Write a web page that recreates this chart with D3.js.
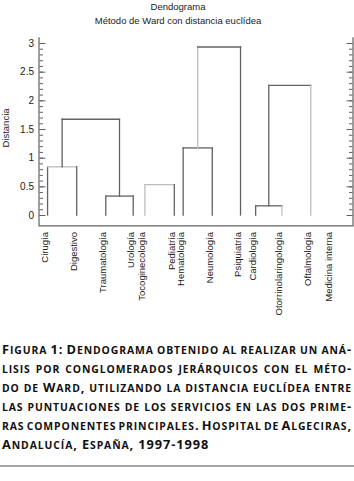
<!DOCTYPE html>
<html>
<head>
<meta charset="utf-8">
<script src="https://cdn.jsdelivr.net/npm/d3@7"></script>
<style>
  html, body { margin: 0; padding: 0; background: #fff; }
  svg { display: block; }
</style>
</head>
<body>
<script>
// Dendograma - Ward, distancia euclídea
// leaves in the order they appear along the x axis
var leaves = ['Cirugía', 'Digestivo', 'Traumatología', 'Urología', 'Tocoginecología',
    'Pediatría', 'Hematología', 'Neumología', 'Psiquiatría', 'Cardiología',
    'Otorrinolaringología', 'Oftalmología', 'Medicina interna'];
var leafPos = [0.30, 1.32, 2.34, 3.30, 3.71, 4.74, 5.05, 6.07, 7.06, 7.59, 8.51, 9.52, 10.23];

// merges: child A, child B (L = leaf, M = earlier merge), height
var mergeA = ['L0', 'L2', 'M0', 'L4', 'L6', 'M4', 'L9', 'M6'];
var mergeB = ['L1', 'L3', 'M1', 'L5', 'L7', 'L8', 'L10', 'L11'];
var mergeHeight = [0.84, 0.33, 1.67, 0.53, 1.17, 2.93, 0.16, 2.26];

var yTicks = [0, 0.5, 1, 1.5, 2, 2.5, 3];
var yTickLabels = ['0', '0.5', '1', '1.5', '2', '2.5', '3'];

var captionLines = [
    'Figura 1: Dendograma obtenido al realizar un aná-',
    'lisis por conglomerados jerárquicos con el méto-',
    'do de Ward, utilizando la distancia euclídea entre',
    'las puntuaciones de los servicios en las dos prime-',
    'ras componentes principales. Hospital de Algeciras,',
    'Andalucía, España, 1997-1998'
];

// segments drawn in the lighter grey of the original print
var lightSegs = { 'M0-h': 1, 'M3-a': 1, 'M3-h': 1, 'M5-a': 1, 'M6-b': 1, 'M7-b': 1 };

(function() {
    'use strict';

    var W = 354, H = 481;
    var dark = '#626262', light = '#bdbdbd';
    var chartFont = '"Liberation Sans", Arial, sans-serif';

    var svg = d3.select('body').append('svg')
        .attr('width', W)
        .attr('height', H)
        .style('font-family', chartFont);

    var plotLeft = 39, plotRight = 353;
    var x = d3.scaleLinear().domain([0, 11]).range([plotLeft, plotRight]);
    var y = d3.scaleLinear().domain([0, 3]).range([215, 43]);

    // Titles
    svg.append('text')
        .attr('x', 178).attr('y', 10)
        .attr('text-anchor', 'middle')
        .attr('font-size', '9.5px')
        .attr('fill', '#222')
        .text('Dendograma');
    svg.append('text')
        .attr('x', 178).attr('y', 24)
        .attr('text-anchor', 'middle')
        .attr('font-size', '9.5px')
        .attr('fill', '#222')
        .text('Método de Ward con distancia euclídea');

    // Frame (left, bottom, right)
    var yTop = y(3.1), yBot = y(-0.19);
    svg.append('path')
        .attr('d', 'M' + plotLeft + ',' + yTop + 'V' + yBot + 'H' + plotRight + 'V' + yTop)
        .attr('fill', 'none')
        .attr('stroke', dark)
        .attr('stroke-width', 1.2);

    // Ticks, inward on both sides
    var minor = d3.range(0, 31).map(function(i) { return i / 10; });
    function ticks(g, dir) {
        g.call(d3.axisRight(y).tickValues(minor).tickSize(3.5 * dir).tickFormat(''));
        g.call(function(s) { s.select('.domain').remove(); });
        var gm = g.append('g');
        gm.call(d3.axisRight(y).tickValues(yTicks).tickSize(6 * dir).tickFormat(''));
        gm.select('.domain').remove();
        g.selectAll('line').attr('stroke', dark).attr('stroke-width', 1);
    }
    svg.append('g').attr('transform', 'translate(' + (plotLeft + 0.5) + ',0)').call(ticks, 1);
    svg.append('g').attr('transform', 'translate(' + (plotRight - 0.5) + ',0)').call(ticks, -1);

    svg.append('g').selectAll('text')
        .data(yTicks)
        .join('text')
        .attr('x', 34)
        .attr('y', function(d) { return y(d); })
        .attr('dy', '0.35em')
        .attr('text-anchor', 'end')
        .attr('font-size', '10px')
        .attr('fill', '#222')
        .text(function(d, i) { return yTickLabels[i]; });

    svg.append('text')
        .attr('transform', 'translate(9,128) rotate(-90)')
        .attr('text-anchor', 'middle')
        .attr('font-size', '9.5px')
        .attr('fill', '#222')
        .text('Distancia');

    // Dendrogram links
    var nodes = {};
    leaves.forEach(function(name, i) {
        nodes['L' + i] = { x: leafPos[i], h: 0 };
    });
    var linkG = svg.append('g').attr('fill', 'none').attr('stroke-width', 1.3);
    mergeA.forEach(function(a, i) {
        var na = nodes[a], nb = nodes[mergeB[i]], h = mergeHeight[i];
        var id = 'M' + i;
        nodes[id] = { x: (na.x + nb.x) / 2, h: h };
        var segs = [
            { k: id + '-a', d: [[na.x, na.h], [na.x, h]] },
            { k: id + '-h', d: [[na.x, h], [nb.x, h]] },
            { k: id + '-b', d: [[nb.x, h], [nb.x, nb.h]] }
        ];
        segs.forEach(function(s) {
            linkG.append('path')
                .attr('d', d3.line().x(function(p) { return x(p[0]); }).y(function(p) { return y(p[1]); })(s.d))
                .attr('stroke', lightSegs[s.k] ? light : dark)
                .attr('stroke-linecap', 'square');
        });
    });

    // Leaf labels
    svg.append('g').selectAll('text')
        .data(leaves)
        .join('text')
        .attr('transform', function(d, i) { return 'translate(' + (x(leafPos[i]) + 0.5) + ',232) rotate(-90)'; })
        .attr('text-anchor', 'end')
        .attr('font-size', '9.5px')
        .attr('fill', '#222')
        .text(function(d) { return d; });

    // Caption in small caps, justified
    var capFont = '"Open Sans", Lato, sans-serif';
    var bigSize = 12.8, smallSize = 10.4;
    var lineLeft = 2, lineRight = 352;
    var capG = svg.append('g')
        .attr('font-family', capFont)
        .attr('font-weight', 700)
        .attr('letter-spacing', '0.9px')
        .attr('fill', '#111');

    captionLines.forEach(function(line, li) {
        var t = capG.append('text')
            .attr('x', lineLeft)
            .attr('y', 354 + li * 19)
            .attr('xml:space', 'preserve');
        // split into runs of lower-case vs other characters
        var runs = [];
        for (var c = 0; c < line.length; c++) {
            var ch = line[c];
            var small = ch !== ch.toUpperCase();
            var last = runs[runs.length - 1];
            if (last && last.small === small) last.s += ch;
            else runs.push({ small: small, s: ch });
        }
        runs.forEach(function(r) {
            t.append('tspan')
                .attr('font-size', (r.small ? smallSize : bigSize) + 'px')
                .text(r.small ? r.s.toUpperCase() : r.s);
        });
        if (li < captionLines.length - 1) {
            var natural = t.node().getComputedTextLength();
            var spaces = line.split(' ').length - 1;
            if (spaces > 0) t.attr('word-spacing', ((lineRight - lineLeft - natural) / spaces) + 'px');
        }
    });

    // Rule under the caption
    svg.append('line')
        .attr('x1', 0).attr('x2', W)
        .attr('y1', 466).attr('y2', 466)
        .attr('stroke', '#8a8a8a')
        .attr('stroke-width', 1.5);
})();
</script>
</body>
</html>
